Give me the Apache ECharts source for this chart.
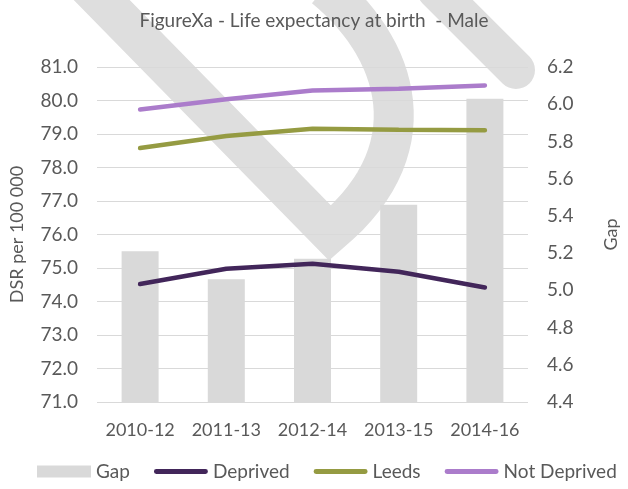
<!DOCTYPE html>
<html>
<head>
<meta charset="utf-8">
<script src="https://cdn.jsdelivr.net/npm/echarts@6/dist/echarts.min.js"></script>
<style>
  html, body { margin: 0; padding: 0; background: #fff; }
  #chart { width: 628px; height: 489px; }
</style>
</head>
<body>
<div id="chart"></div>
<script>
// data
const periods = ['2010-12', '2011-13', '2012-14', '2013-15', '2014-16']
const gap = [5.21, 5.06, 5.17, 5.46, 6.03]
const deprived = [74.52, 74.98, 75.13, 74.89, 74.42]
const leeds = [78.58, 78.94, 79.16, 79.13, 79.11]
const notDeprived = [79.73, 80.04, 80.30, 80.35, 80.45]

const font = 'Lato, sans-serif'
const grey = '#595959'
const lineIcon = 'path://M2.5,0H52.5A2.5,2.5,0,0,1,52.5,5H2.5A2.5,2.5,0,0,1,2.5,0Z'

// background watermark strokes (decoration only)
const bez = (p0, p1, p2, p3, n) => {
  const pts = []
  for (let i = 0; i <= n; i++) {
    const t = i / n, u = 1 - t
    pts.push([
      u*u*u*p0[0] + 3*u*u*t*p1[0] + 3*u*t*t*p2[0] + t*t*t*p3[0],
      u*u*u*p0[1] + 3*u*u*t*p1[1] + 3*u*t*t*p2[1] + t*t*t*p3[1]
    ])
  }
  return pts
}
const markPts = [[88, -14]].concat(bez([330, 233], [430, 150], [400, 50], [325, -12], 30))

const chart = echarts.init(document.getElementById('chart'))
chart.setOption({
  animation: false,
  title: {
    text: 'FigureXa - Life expectancy at birth  - Male',
    left: 'center',
    top: 6,
    textStyle: { fontFamily: font, fontSize: 19, fontWeight: 'normal', color: grey }
  },
  graphic: [
    {
      type: 'polyline', z: -10, silent: true,
      shape: { points: markPts },
      style: { stroke: '#dedede', lineWidth: 40, fill: null, lineJoin: 'miter', lineCap: 'butt' }
    },
    {
      type: 'line', z: -10, silent: true,
      shape: { x1: 436, y1: -10, x2: 516, y2: 70 },
      style: { stroke: '#dedede', lineWidth: 38, lineCap: 'round' }
    }
  ],
  legend: {
    bottom: 3,
    left: 32,
    itemWidth: 54,
    itemHeight: 12,
    itemGap: 24,
    textStyle: { fontFamily: font, fontSize: 19, color: grey },
    data: [
      { name: 'Gap', icon: 'rect' },
      { name: 'Deprived', icon: lineIcon },
      { name: 'Leeds', icon: lineIcon },
      { name: 'Not Deprived', icon: lineIcon }
    ]
  },
  grid: { left: 96, right: 75, top: 67, bottom: 87 },
  xAxis: {
    type: 'category',
    data: periods,
    axisLine: { show: false },
    axisTick: { show: false },
    axisLabel: { interval: 0, fontFamily: font, fontSize: 18, color: grey, margin: 19 }
  },
  yAxis: [
    {
      type: 'value',
      min: 71, max: 81, interval: 1,
      name: 'DSR per 100 000',
      nameLocation: 'middle',
      nameRotate: 90,
      nameGap: 71,
      nameTextStyle: { fontFamily: font, fontSize: 18, color: grey },
      axisLabel: { fontFamily: font, fontSize: 19, color: grey, margin: 19, formatter: v => v.toFixed(1) },
      splitLine: { lineStyle: { color: '#d9d9d9', width: 1 } }
    },
    {
      type: 'value',
      min: 4.4, max: 6.2, interval: 0.2,
      name: 'Gap',
      nameLocation: 'middle',
      nameRotate: 90,
      nameGap: 74,
      nameTextStyle: { fontFamily: font, fontSize: 18, color: grey },
      axisLabel: { fontFamily: font, fontSize: 19, color: grey, margin: 19, formatter: v => v.toFixed(1) },
      splitLine: { show: false }
    }
  ],
  series: [
    {
      name: 'Gap', type: 'bar', yAxisIndex: 1, barWidth: 37,
      itemStyle: { color: '#d9d9d9' },
      data: gap
    },
    {
      name: 'Deprived', type: 'line', yAxisIndex: 0, symbol: 'none',
      itemStyle: { color: '#42265a' },
      lineStyle: { color: '#42265a', width: 4.5, cap: 'round' },
      data: deprived
    },
    {
      name: 'Leeds', type: 'line', yAxisIndex: 0, symbol: 'none',
      itemStyle: { color: '#959b42' },
      lineStyle: { color: '#959b42', width: 4.5, cap: 'round' },
      data: leeds
    },
    {
      name: 'Not Deprived', type: 'line', yAxisIndex: 0, symbol: 'none',
      itemStyle: { color: '#ab7ccb' },
      lineStyle: { color: '#ab7ccb', width: 4.5, cap: 'round' },
      data: notDeprived
    }
  ]
})
</script>
</body>
</html>
